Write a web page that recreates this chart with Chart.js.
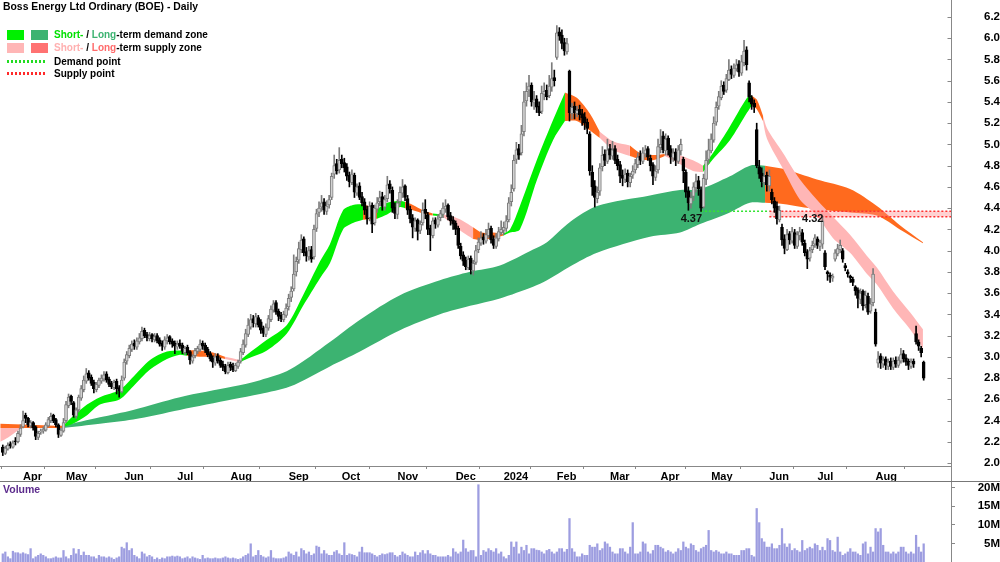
<!DOCTYPE html>
<html>
<head>
<meta charset="utf-8">
<title>Boss Energy Ltd Ordinary (BOE) - Daily</title>
<script src="https://cdn.jsdelivr.net/npm/chart.js@4.4.1/dist/chart.umd.min.js"></script>
<style>
html, body { margin:0; padding:0; background:#fff; }
#wrap { position:relative; width:1000px; height:562px; overflow:hidden; font-family:"Liberation Sans", Arial, Helvetica, sans-serif; }
canvas { position:absolute; left:0; }
#pc { top:0; }
#vc { top:481px; }
.txt { position:absolute; font-weight:bold; white-space:nowrap; line-height:1; }
.sw { position:absolute; width:17px; height:10px; }
.dl { position:absolute; width:38px; height:3px; }
</style>
</head>
<body>
<div id="wrap">
<canvas id="pc" width="1000" height="481"></canvas>
<canvas id="vc" width="1000" height="81"></canvas>
<div class="txt" style="left:3px;top:2px;font-size:10.4px;color:#000;">Boss Energy Ltd Ordinary (BOE) - Daily</div>
<div class="sw" style="left:7px;top:30px;background:#00f000"></div>
<div class="sw" style="left:31px;top:30px;background:#3cb371"></div>
<div class="txt" style="left:54px;top:30px;font-size:10px;color:#000;"><span style="color:#00e000">Short-</span> / <span style="color:#3cb371">Long</span>-term demand zone</div>
<div class="sw" style="left:7px;top:43px;background:#ffb6b6"></div>
<div class="sw" style="left:31px;top:43px;background:#ff7272"></div>
<div class="txt" style="left:54px;top:43px;font-size:10px;color:#000;"><span style="color:#ffb0b0">Short-</span> / <span style="color:#ff6b6b">Long</span>-term supply zone</div>
<div class="dl" style="left:7px;top:60px;background:repeating-linear-gradient(90deg,#22dd22 0 2px,transparent 2px 4px);"></div>
<div class="txt" style="left:54px;top:57px;font-size:10px;color:#000;">Demand point</div>
<div class="dl" style="left:7px;top:72px;background:repeating-linear-gradient(90deg,#ff2a2a 0 2px,transparent 2px 4px);"></div>
<div class="txt" style="left:54px;top:69px;font-size:10px;color:#000;">Supply point</div>
<div class="txt" style="left:3px;top:484px;font-size:10.5px;color:#5b2a8c;">Volume</div>
</div>
<script>
// ---------- axis labels ----------
const monthLabels = ['Apr','May','Jun','Jul','Aug','Sep','Oct','Nov','Dec','2024','Feb','Mar','Apr','May','Jun','Jul','Aug'];
const monthStarts = [8,25,48,69,90,113,134,156,179,198,219,240,260,280,303,322,345];

// ---------- daily candles (trading-day index 0 = 22 Mar 2023) ----------
const opens = [
 2.15,2.09,2.13,2.18,2.15,2.21,2.20,2.27, // Mar 23
 2.34,2.45,2.42,2.35,2.38,2.34,2.24,2.29,2.30,2.31,2.35,2.40,2.45,2.41,2.36,2.26,2.30, // Apr
 2.40,2.54,2.63,2.57,2.44,2.50,2.61,2.69,2.77,2.85,2.81,2.76,2.69,2.73,2.77,2.79,2.84,2.79,2.75,2.71,2.77,2.71,2.67, // May
 2.80,2.96,3.01,3.07,3.13,3.09,3.14,3.17,3.25,3.21,3.17,3.21,3.16,3.20,3.16,3.13,3.09,3.15,3.19,3.15,3.13, // Jun
 3.09,3.13,3.11,3.04,3.09,3.05,2.96,3.01,3.05,3.07,3.13,3.11,3.07,3.03,2.99,2.94,3.01,2.97,2.93,2.91,2.85, // Jul
 2.93,2.91,2.87,2.91,2.96,3.04,3.11,3.21,3.28,3.36,3.31,3.37,3.33,3.27,3.21,3.27,3.35,3.44,3.51,3.43,3.39,3.35,3.39, // Aug
 3.47,3.56,3.64,3.80,3.91,4.01,4.11,3.99,3.94,4.01,3.94,4.21,4.36,4.41,4.46,4.37,4.43,4.50,4.72,4.82,4.76, // Sep
 4.86,4.83,4.79,4.71,4.64,4.71,4.54,4.61,4.51,4.46,4.39,4.31,4.43,4.26,4.39,4.46,4.51,4.41,4.49,4.63,4.57,4.41, // Oct
 4.34,4.46,4.54,4.61,4.49,4.39,4.31,4.21,4.29,4.19,4.26,4.39,4.34,4.21,4.14,4.29,4.24,4.31,4.34,4.39,4.43,4.33,4.29, // Nov
 4.26,4.21,4.04,3.96,3.91,3.84,3.93,3.81,3.89,4.01,4.07,4.13,4.09,4.14,4.21,4.11,4.04,4.11,4.17, // Dec
 4.19,4.21,4.29,4.46,4.58,4.86,4.96,4.92,5.12,5.41,5.51,5.56,5.39,5.43,5.36,5.31,5.47,5.51,5.46,5.54,5.63, // Jan 24
 5.82,6.06,6.03,5.96,5.87,5.69,5.29,5.36,5.29,5.33,5.29,5.26,5.21,5.10,4.74,4.61,4.49,4.56,4.79,4.91,4.84, // Feb
 4.96,4.89,4.96,4.86,4.81,4.71,4.67,4.73,4.64,4.71,4.76,4.81,4.89,4.84,4.91,4.96,4.87,4.81,4.69,4.76, // Mar
 4.97,5.08,4.94,5.06,4.96,4.87,4.93,4.84,4.94,4.86,4.74,4.56,4.44,4.51,4.59,4.66,4.57,4.41,4.67,4.86, // Apr
 4.94,5.04,5.21,5.36,5.44,5.56,5.51,5.61,5.71,5.65,5.71,5.76,5.67,5.77,5.89,5.58,5.44,5.39,5.14,4.79,4.73,4.64,4.71, // May
 4.61,4.55,4.47,4.42,4.29,4.22,4.11,4.01,4.16,4.09,4.17,4.04,4.14,4.17,4.07,3.99,3.93,4.01,4.06, // Jun
 4.11,4.04,4.06,3.98,3.80,3.77,3.74,3.92,3.97,4.01,4.00,3.86,3.80,3.76,3.73,3.66,3.63,3.54,3.62,3.49,3.57,3.43,3.51, // Jul
 3.42,2.94,3.01,2.93,2.98,2.91,2.96,2.90,2.97,2.92,2.96,3.03,2.99,2.96,2.91,2.96,3.22,3.14,3.08,2.95 // Aug
];
const highs = [
 2.17,2.16,2.19,2.20,2.21,2.24,2.30,2.36,
 2.49,2.47,2.43,2.40,2.39,2.35,2.30,2.32,2.34,2.38,2.43,2.47,2.46,2.42,2.37,2.33,2.42,
 2.58,2.65,2.64,2.58,2.52,2.64,2.73,2.82,2.89,2.87,2.83,2.78,2.76,2.80,2.83,2.86,2.86,2.81,2.77,2.78,2.79,2.73,2.82,
 2.98,3.05,3.11,3.15,3.16,3.18,3.22,3.28,3.27,3.23,3.23,3.22,3.22,3.22,3.18,3.15,3.19,3.21,3.20,3.17,3.15,
 3.15,3.16,3.13,3.10,3.11,3.06,3.02,3.08,3.10,3.16,3.15,3.13,3.09,3.05,3.01,3.03,3.03,2.99,2.96,2.93,2.95,
 2.95,2.94,2.94,2.97,3.08,3.16,3.26,3.36,3.40,3.39,3.41,3.39,3.35,3.29,3.31,3.39,3.48,3.53,3.53,3.45,3.42,3.43,3.50,
 3.59,3.66,3.96,3.94,4.08,4.15,4.13,4.03,4.04,4.04,4.24,4.39,4.46,4.52,4.49,4.47,4.52,4.73,4.90,4.86,4.97,
 4.90,4.87,4.82,4.74,4.76,4.73,4.63,4.64,4.55,4.49,4.42,4.46,4.45,4.43,4.50,4.56,4.55,4.52,4.70,4.66,4.60,4.45,
 4.48,4.60,4.67,4.62,4.52,4.42,4.34,4.31,4.30,4.28,4.45,4.48,4.36,4.24,4.31,4.31,4.34,4.38,4.45,4.48,4.44,4.36,4.32,
 4.28,4.23,4.07,3.99,3.94,3.95,3.95,3.91,4.05,4.12,4.18,4.16,4.20,4.26,4.23,4.14,4.16,4.22,4.28,
 4.27,4.33,4.50,4.62,4.90,5.02,5.00,5.18,5.50,5.58,5.65,5.58,5.50,5.46,5.40,5.55,5.58,5.56,5.65,5.77,5.70,
 6.12,6.10,6.08,6.00,6.00,5.70,5.39,5.40,5.36,5.37,5.33,5.30,5.24,5.12,4.80,4.66,4.60,4.82,4.98,4.95,5.05,
 5.00,5.03,4.99,4.90,4.84,4.76,4.77,4.76,4.73,4.80,4.86,4.92,4.94,4.97,4.99,4.98,4.90,4.83,4.80,5.05,
 5.14,5.12,5.10,5.08,4.99,4.96,4.96,4.99,5.05,4.88,4.76,4.60,4.55,4.64,4.72,4.70,4.60,4.72,4.94,5.05,
 5.10,5.26,5.40,5.50,5.60,5.59,5.66,5.80,5.74,5.76,5.80,5.79,5.84,5.98,5.92,5.60,5.46,5.42,5.20,4.85,4.78,4.76,4.74,
 4.76,4.58,4.50,4.46,4.42,4.25,4.15,4.20,4.18,4.22,4.20,4.18,4.22,4.20,4.10,4.01,4.03,4.09,4.15,
 4.13,4.10,4.32,4.00,3.81,3.79,3.78,4.01,4.06,4.10,4.02,3.88,3.82,3.77,3.75,3.67,3.65,3.64,3.63,3.62,3.60,3.55,3.83,
 3.45,3.05,3.03,3.00,3.00,2.98,2.99,2.99,3.00,3.00,3.08,3.06,3.02,2.98,2.98,2.98,3.29,3.16,3.10,2.96
];
const lows = [
 2.07,2.08,2.12,2.14,2.14,2.17,2.19,2.25,
 2.33,2.38,2.34,2.33,2.31,2.22,2.22,2.27,2.28,2.30,2.34,2.38,2.38,2.34,2.24,2.25,2.29,
 2.38,2.52,2.55,2.43,2.42,2.48,2.59,2.67,2.75,2.78,2.73,2.66,2.67,2.71,2.75,2.77,2.76,2.72,2.70,2.69,2.65,2.62,2.66,
 2.78,2.93,2.99,3.05,3.07,3.07,3.12,3.15,3.18,3.15,3.15,3.14,3.14,3.13,3.10,3.06,3.07,3.12,3.12,3.09,3.03,
 3.07,3.08,3.03,3.02,3.02,2.93,2.94,2.99,3.03,3.05,3.07,3.04,3.00,2.96,2.90,2.92,2.94,2.90,2.87,2.84,2.84,
 2.87,2.86,2.86,2.89,2.94,3.02,3.09,3.19,3.26,3.28,3.28,3.28,3.22,3.19,3.19,3.25,3.33,3.42,3.40,3.34,3.33,3.33,3.37,
 3.44,3.52,3.62,3.76,3.88,3.98,3.95,3.90,3.91,3.89,3.92,4.18,4.32,4.37,4.34,4.34,4.40,4.48,4.68,4.72,4.73,
 4.78,4.74,4.66,4.60,4.62,4.50,4.52,4.48,4.42,4.34,4.25,4.28,4.17,4.24,4.36,4.42,4.38,4.38,4.46,4.54,4.36,4.30,
 4.30,4.42,4.50,4.47,4.34,4.26,4.12,4.18,4.10,4.16,4.24,4.30,4.15,4.00,4.12,4.21,4.22,4.28,4.31,4.36,4.29,4.24,4.20,
 4.15,4.02,3.92,3.86,3.82,3.82,3.78,3.77,3.87,3.98,4.05,4.06,4.07,4.12,4.07,4.02,4.02,4.09,4.15,
 4.15,4.18,4.27,4.42,4.56,4.82,4.86,4.90,5.08,5.36,5.45,5.36,5.33,5.30,5.27,5.29,5.42,5.42,5.44,5.50,5.55,
 5.80,5.98,5.90,5.84,5.85,5.22,5.24,5.24,5.26,5.23,5.18,5.14,5.10,4.71,4.52,4.41,4.45,4.52,4.75,4.80,4.82,
 4.86,4.86,4.82,4.76,4.64,4.61,4.64,4.60,4.60,4.68,4.73,4.78,4.81,4.82,4.88,4.85,4.75,4.62,4.66,4.73,
 4.92,4.92,4.90,4.90,4.82,4.84,4.80,4.82,4.90,4.64,4.50,4.38,4.40,4.47,4.55,4.52,4.37,4.40,4.62,4.82,
 4.92,5.02,5.18,5.33,5.42,5.47,5.49,5.60,5.62,5.63,5.69,5.64,5.65,5.74,5.70,5.40,5.33,5.30,4.78,4.68,4.60,4.62,4.56,
 4.56,4.44,4.36,4.25,4.27,4.05,3.97,4.00,4.06,4.07,4.02,4.02,4.10,4.05,3.95,3.83,3.90,3.98,4.03,
 4.02,4.00,4.02,3.82,3.72,3.70,3.71,3.90,3.95,3.98,3.89,3.81,3.75,3.70,3.67,3.58,3.46,3.50,3.44,3.46,3.40,3.41,3.48,
 3.10,2.90,2.89,2.90,2.88,2.88,2.88,2.88,2.90,2.90,2.94,2.95,2.92,2.88,2.89,2.90,3.12,3.06,3.00,2.78
];
const closes = [
 2.10,2.14,2.17,2.16,2.19,2.20,2.28,2.33,
 2.40,2.42,2.36,2.38,2.33,2.25,2.28,2.30,2.32,2.36,2.41,2.44,2.40,2.36,2.27,2.31,2.38,
 2.55,2.62,2.58,2.45,2.50,2.62,2.70,2.78,2.84,2.80,2.75,2.70,2.74,2.78,2.80,2.83,2.78,2.74,2.72,2.76,2.70,2.68,2.78,
 2.95,3.02,3.08,3.12,3.10,3.15,3.18,3.24,3.20,3.18,3.20,3.17,3.19,3.15,3.12,3.10,3.16,3.18,3.14,3.12,3.10,
 3.12,3.10,3.05,3.08,3.04,2.97,3.00,3.06,3.08,3.12,3.10,3.06,3.02,2.98,2.95,3.00,2.96,2.92,2.90,2.86,2.92,
 2.90,2.88,2.92,2.95,3.05,3.12,3.22,3.30,3.35,3.32,3.38,3.30,3.25,3.22,3.28,3.36,3.45,3.50,3.42,3.38,3.36,3.40,3.46,
 3.55,3.62,3.78,3.90,4.02,4.10,3.98,3.95,4.00,3.92,4.20,4.35,4.40,4.45,4.38,4.42,4.48,4.70,4.80,4.75,4.85,
 4.82,4.78,4.70,4.65,4.72,4.55,4.60,4.50,4.45,4.38,4.30,4.42,4.25,4.40,4.45,4.50,4.42,4.48,4.62,4.58,4.40,4.35,
 4.45,4.55,4.60,4.50,4.38,4.30,4.22,4.28,4.18,4.25,4.38,4.35,4.20,4.15,4.28,4.25,4.30,4.35,4.40,4.42,4.32,4.28,4.25,
 4.20,4.05,3.95,3.90,3.85,3.92,3.82,3.88,4.00,4.08,4.12,4.10,4.15,4.20,4.10,4.05,4.12,4.18,4.20,
 4.22,4.28,4.45,4.55,4.85,4.95,4.90,5.10,5.40,5.50,5.55,5.40,5.42,5.35,5.30,5.48,5.50,5.45,5.55,5.62,5.60,
 6.05,6.02,5.95,5.88,5.95,5.30,5.35,5.30,5.32,5.28,5.25,5.20,5.15,4.75,4.60,4.50,4.55,4.78,4.90,4.85,4.95,
 4.90,4.95,4.85,4.80,4.70,4.68,4.72,4.65,4.70,4.75,4.82,4.88,4.85,4.92,4.95,4.88,4.80,4.70,4.75,4.98,
 5.00,4.95,5.05,4.95,4.88,4.92,4.85,4.95,5.00,4.75,4.55,4.45,4.50,4.60,4.65,4.58,4.40,4.68,4.85,4.95,
 5.05,5.20,5.35,5.45,5.55,5.50,5.62,5.70,5.66,5.72,5.75,5.68,5.78,5.88,5.75,5.45,5.38,5.35,4.80,4.72,4.65,4.70,4.62,
 4.70,4.48,4.40,4.30,4.38,4.10,4.02,4.15,4.10,4.18,4.05,4.15,4.18,4.08,3.98,3.92,4.00,4.05,4.12,
 4.05,4.08,4.28,3.85,3.78,3.75,3.76,3.98,4.02,4.05,3.92,3.84,3.78,3.74,3.70,3.62,3.55,3.60,3.48,3.58,3.42,3.50,3.78,
 3.12,2.98,2.94,2.97,2.92,2.95,2.91,2.96,2.93,2.97,3.02,2.98,2.95,2.92,2.95,2.93,3.14,3.10,3.04,2.80
];
// volume, millions of shares
const volumes = [
 2.2,2.7,1.4,0.9,2.9,2.5,2.5,2.2,
 2.5,2.2,2.0,3.6,0.9,1.4,1.8,2.2,1.8,1.4,0.9,0.9,1.1,1.4,1.1,1.1,3.1,
 1.4,0.9,1.8,3.6,2.2,3.4,1.8,2.7,1.8,1.8,1.4,1.4,0.9,1.8,1.4,1.4,1.1,1.4,1.1,0.7,1.1,1.4,4.0,
 3.6,5.2,3.1,3.6,1.8,1.4,0.9,2.7,2.2,1.4,1.8,1.4,0.7,1.1,0.7,1.1,0.9,1.4,1.4,1.6,1.4,
 1.6,1.4,0.9,1.1,1.4,0.9,1.4,1.1,0.9,0.7,1.8,0.9,1.1,0.9,0.9,1.1,0.9,0.9,1.1,1.4,1.1,
 0.9,1.1,0.9,0.7,0.9,1.4,1.8,2.2,4.9,1.4,1.8,3.1,1.8,1.4,1.1,1.4,3.1,1.1,0.9,0.9,0.9,1.1,1.4,
 2.7,2.2,1.8,2.7,1.4,3.6,3.1,2.2,2.7,1.8,2.2,4.3,4.0,2.2,3.1,2.2,1.8,1.8,2.7,3.1,2.2,
 1.8,5.2,1.8,2.2,2.0,1.8,1.4,2.7,4.0,2.5,2.5,2.5,2.2,1.8,1.4,1.8,2.2,2.0,2.2,2.5,2.5,1.8,
 1.4,1.8,2.7,2.2,1.8,1.4,1.4,2.7,1.8,2.5,3.1,2.2,3.1,2.2,1.8,1.8,1.4,1.4,1.4,1.4,1.8,1.4,3.6,
 2.7,2.2,2.7,5.9,3.6,2.7,3.1,3.1,1.4,20.8,1.8,3.1,2.7,3.6,3.1,2.7,3.6,2.2,2.7,
 1.4,0.9,1.8,5.4,4.0,5.4,2.2,4.0,3.1,4.5,2.2,3.6,3.6,3.2,3.1,2.7,2.2,3.1,3.4,2.7,2.2,
 2.7,3.6,3.6,2.7,3.4,11.7,3.6,2.7,1.4,1.4,2.2,1.8,1.8,4.5,4.0,4.0,4.9,3.1,3.6,5.4,4.9,
 4.0,2.7,2.2,2.2,3.6,3.6,2.7,2.2,4.0,10.6,2.2,2.2,2.7,5.4,4.9,2.7,2.2,3.1,4.5,4.5,
 4.0,3.6,2.7,3.1,2.7,2.2,2.7,3.6,3.1,5.4,4.0,3.6,4.9,4.5,3.1,2.7,3.6,4.0,4.5,8.5,
 3.1,2.7,3.1,2.7,2.2,2.2,2.7,2.2,2.2,1.8,1.8,1.8,3.1,3.1,3.6,3.6,1.8,1.4,14.4,10.6,6.3,5.4,4.0,
 4.0,4.9,3.6,3.6,4.5,9.0,4.9,4.0,4.9,3.1,3.6,3.1,2.7,5.8,3.1,3.6,4.0,3.6,4.9,
 4.5,3.1,4.0,3.1,6.3,5.8,3.1,2.7,6.7,2.7,1.8,2.2,2.7,3.6,2.7,2.7,2.2,1.8,4.9,5.4,2.2,4.0,2.7,
 9.0,8.1,9.0,4.5,2.7,2.7,2.2,2.7,2.2,2.7,4.0,4.0,2.7,2.2,2.7,2.2,7.2,4.0,2.7,4.9
];

// ---------- zones (band edges read at sample days) ----------
// colour keys: SD short demand, LD long demand, SS short supply, LS long supply, null = no fill
const shortX  = [-1,2.1,6.8,23.8,27.7,33.3,38.4,46.3,51.5,58.2,64.9,70.0,72.8,77.9,83.1,87.8,93.8,96.5,104.4,112.3,118.7,125.4,129.3,134.5,138.4,142.4,147.9,151.9,157.0,159.0,162.1,166.1,170.0,174.0,176.8,181.9,185.9,189.4,193.8,197.7,200.5,204.4,211.2,217.5,222.2,226.9,232.1,236.0,241.2,247.9,251.9,257.0,261.7,264.9,272.8,276.8,280.7,287.4,294.2,296.1,298.1,300.5,302.1,308.4,315.1,321.8,328.1,334.9,341.6,345.5,351.8,358.6,363.7];
const shortUp = [2.33,2.33,2.33,2.35,2.44,2.55,2.62,2.69,2.81,2.97,3.05,3.06,3.06,3.06,3.04,3.00,2.97,3.02,3.16,3.30,3.58,3.90,4.06,4.38,4.43,4.44,4.39,4.45,4.47,4.46,4.43,4.38,4.35,4.34,4.33,4.28,4.22,4.17,4.17,4.16,4.20,4.42,4.86,5.23,5.49,5.44,5.29,5.12,5.03,4.99,4.92,4.90,4.91,4.92,4.85,4.80,4.92,5.17,5.44,5.46,5.42,5.27,5.15,4.92,4.67,4.48,4.32,4.15,3.95,3.84,3.62,3.42,3.26];
const shortLo = [2.20,2.24,2.32,2.34,2.37,2.45,2.55,2.60,2.72,2.88,2.98,3.02,3.01,3.00,3.00,2.98,2.95,2.98,3.06,3.22,3.48,3.74,3.88,4.20,4.26,4.29,4.30,4.34,4.41,4.40,4.38,4.35,4.33,4.32,4.27,4.17,4.11,4.10,4.12,4.14,4.17,4.20,4.67,5.04,5.22,5.22,5.13,5.06,4.95,4.89,4.86,4.85,4.89,4.85,4.75,4.74,4.86,5.04,5.30,5.37,5.33,5.22,5.05,4.77,4.48,4.33,4.12,3.98,3.78,3.68,3.46,3.26,3.08];
const shortCol = ['SS','SS',null,'SD','SD','SD','SD','SD','SD','SD','SD','SD','LS','LS','LS','SS','SD','SD','SD','SD','SD','SD','SD','SD','SD','LS','SD','SD','SD','LS','LS','LS','SD','SS','SS','SS','LS','LS','LS','SD','SD','SD','SD','SD','LS','LS','LS','SS','SS','LS','LS','LS','SS','SS','SS','SD','SD','SD','SD','LS','LS','SS','SS','SS','SS','SS','SS','SS','SS','SS','SS','SS',null];

const longX  = [-1,10.8,20.6,23.8,38.4,51.5,70.0,91.0,101.7,113.5,129.3,141.2,157.0,172.8,184.7,196.5,209.6,215.1,224.2,234.9,255.8,267.7,275.6,287.4,295.3,301.3,308.4,321.8,334.9,345.5,354.6,363.7];
const longUp = [2.37,2.36,2.35,2.35,2.43,2.50,2.62,2.72,2.78,2.88,3.14,3.35,3.58,3.72,3.80,3.86,4.01,4.08,4.27,4.42,4.52,4.57,4.58,4.70,4.80,4.80,4.77,4.67,4.58,4.42,4.24,4.08];
const longLo = [2.33,2.33,2.33,2.33,2.37,2.41,2.50,2.60,2.65,2.72,2.91,3.05,3.25,3.40,3.48,3.55,3.66,3.72,3.85,3.98,4.13,4.17,4.25,4.36,4.45,4.45,4.44,4.39,4.36,4.33,4.20,4.07];
const longCol = ['LS','LS','LS','LD','LD','LD','LD','LD','LD','LD','LD','LD','LD','LD','LD','LD','LD','LD','LD','LD','LD','LD','LD','LD','LD','LS','LS','LS','LS','LS','LS',null];

// demand / supply points
const demandPoint = 4.37, demandFrom = 276, demandTo = 303;
const supplyPoints = [4.37, 4.32], supplyFrom = 303, supplyLabelDay = 324;

// ---------- styling ----------
const COLORS = { SD:'#00f000', LD:'#3cb371', SS:'#ffb6b6', LS:'#ff6a1e' };
const FONT = '"Liberation Sans", Arial, Helvetica, sans-serif';
Chart.defaults.font.family = FONT;
const X_MIN = -1.1, X_MAX = 374.8;

function addBands(xs, up, lo, col, order, out) {
  let i = 0;
  while (i < xs.length - 1) {
    const c = col[i];
    let j = i + 1;
    while (j < xs.length - 1 && col[j] === c) j++;
    if (c) {
      const u = [], l = [];
      for (let k = i; k <= j; k++) { u.push({x: xs[k], y: up[k]}); l.push({x: xs[k], y: lo[k]}); }
      const ui = out.length;
      out.push({type:'line', data:u, borderWidth:0, borderColor:'rgba(0,0,0,0)', pointRadius:0, fill:false, tension:0.3, order});
      out.push({type:'line', data:l, borderWidth:0, borderColor:'rgba(0,0,0,0)', pointRadius:0, fill:ui, backgroundColor:COLORS[c], tension:0.3, order});
    }
    i = j;
  }
}

const isUp = closes.map((c, i) => c >= opens[i]);
const datasets = [];
// bodies (top-most)
datasets.push({
  type:'bar', grouped:false, order:0, barThickness:3, minBarLength:1, borderSkipped:false,
  data: closes.map((c, i) => ({x:i, y:[opens[i], c]})),
  backgroundColor: isUp.map(u => u ? '#d2d2d2' : '#000000'),
  borderColor: isUp.map(u => u ? '#7c7c7c' : '#000000'),
  borderWidth: 1
});
// wicks
datasets.push({
  type:'bar', grouped:false, order:1, barThickness:1,
  data: closes.map((c, i) => ({x:i, y:[lows[i], highs[i]]})),
  backgroundColor: isUp.map(u => u ? '#7c7c7c' : '#000000'),
  borderWidth: 0
});
// demand point line
datasets.push({type:'line', order:3, data:[{x:demandFrom, y:demandPoint},{x:demandTo, y:demandPoint}],
  borderColor:'#33e433', borderWidth:1.5, borderDash:[2,2], pointRadius:0, fill:false});
// supply point lines
const sIdx = datasets.length;
datasets.push({type:'line', order:3, data:[{x:supplyFrom, y:supplyPoints[0]},{x:X_MAX, y:supplyPoints[0]}],
  borderColor:'#ff3030', borderWidth:1.5, borderDash:[2,2], pointRadius:0, fill:false});
datasets.push({type:'line', order:3, data:[{x:supplyFrom, y:supplyPoints[1]},{x:X_MAX, y:supplyPoints[1]}],
  borderColor:'#ff3030', borderWidth:1.5, borderDash:[2,2], pointRadius:0, fill:sIdx, backgroundColor:'rgba(255,140,140,0.4)'});
addBands(shortX, shortUp, shortLo, shortCol, 8, datasets);
addBands(longX, longUp, longLo, longCol, 10, datasets);

const priceExtras = {
  id:'priceExtras',
  afterDraw(chart) {
    const {ctx, scales:{x, y}, chartArea} = chart;
    ctx.save();
    ctx.font = 'bold 11px ' + FONT;
    ctx.fillStyle = '#111';
    ctx.textAlign = 'right';
    ctx.textBaseline = 'top';
    const ty = y.getPixelForValue(demandPoint) + 2;
    ctx.fillText(demandPoint.toFixed(2), x.getPixelForValue(demandFrom) + 1, ty);
    ctx.fillText(supplyPoints[1].toFixed(2), x.getPixelForValue(supplyLabelDay) + 1, ty);
    ctx.strokeStyle = '#888';
    ctx.lineWidth = 1;
    const ax = Math.round(chartArea.right) + 0.5;
    ctx.beginPath();
    ctx.moveTo(ax, chartArea.bottom);
    ctx.lineTo(ax, chart.height);
    // inner tick marks on the price axis
    y.ticks.forEach(t => {
      const py = Math.round(y.getPixelForValue(t.value)) + 0.5;
      ctx.moveTo(ax - 4, py);
      ctx.lineTo(ax, py);
    });
    ctx.stroke();
    ctx.restore();
  }
};

new Chart(document.getElementById('pc'), {
  type:'bar',
  data:{ datasets },
  options:{
    responsive:false, animation:false, devicePixelRatio:1,
    layout:{ padding:0 },
    plugins:{ legend:{display:false}, tooltip:{enabled:false}, title:{display:false} },
    scales:{
      x:{
        type:'linear', min:X_MIN, max:X_MAX, offset:false,
        afterBuildTicks: s => { s.ticks = monthStarts.map(v => ({value:v})); },
        afterFit: s => { s.height = 15; s.paddingLeft = 0; s.paddingRight = 0; },
        ticks:{ autoSkip:false, maxRotation:0, minRotation:0, align:'start', padding:1,
          font:{size:11, weight:'bold'}, color:'#000', callback:(v, i) => monthLabels[i] },
        grid:{ drawOnChartArea:false, drawTicks:true, tickLength:3, color:'#888' },
        border:{ display:true, color:'#888' }
      },
      y:{
        position:'right', min:1.972, max:6.36,
        afterFit: s => { s.width = 49; s.paddingTop = 0; s.paddingBottom = 0; },
        ticks:{ stepSize:0.2, includeBounds:false, autoSkip:false, crossAlign:'far', padding:29,
          font:{size:11.5, weight:'bold'}, color:'#000', callback: v => v.toFixed(1) },
        grid:{ drawOnChartArea:false, drawTicks:false, color:'#888' },
        border:{ display:true, color:'#888' }
      }
    }
  },
  plugins:[priceExtras]
});

const volExtras = {
  id:'volExtras',
  afterDraw(chart) {
    const {ctx} = chart;
    ctx.save();
    ctx.strokeStyle = '#777';
    ctx.lineWidth = 1;
    ctx.beginPath();
    ctx.moveTo(0, 0.5);
    ctx.lineTo(chart.width, 0.5);
    ctx.stroke();
    ctx.restore();
  }
};

new Chart(document.getElementById('vc'), {
  type:'bar',
  data:{ datasets:[{
    type:'bar', grouped:false, barThickness:1.6,
    data: volumes.map((v, i) => ({x:i, y:v})),
    backgroundColor:'#9d9de0', borderWidth:0
  }]},
  options:{
    responsive:false, animation:false, devicePixelRatio:1,
    layout:{ padding:0 },
    plugins:{ legend:{display:false}, tooltip:{enabled:false} },
    scales:{
      x:{ type:'linear', min:X_MIN, max:X_MAX, offset:false, display:false },
      y:{
        position:'right', min:0, max:21.8,
        afterBuildTicks: s => { s.ticks = s.ticks.filter(t => t.value > 0); },
        afterFit: s => { s.width = 49; s.paddingTop = 0; s.paddingBottom = 0; },
        ticks:{ stepSize:5, includeBounds:false, autoSkip:false, crossAlign:'far', padding:19,
          font:{size:11.5, weight:'bold'}, color:'#000', callback: v => v + 'M' },
        grid:{ drawOnChartArea:false, drawTicks:true, tickLength:4, color:'#888' },
        border:{ display:true, color:'#888' }
      }
    }
  },
  plugins:[volExtras]
});
</script>
</body>
</html>
